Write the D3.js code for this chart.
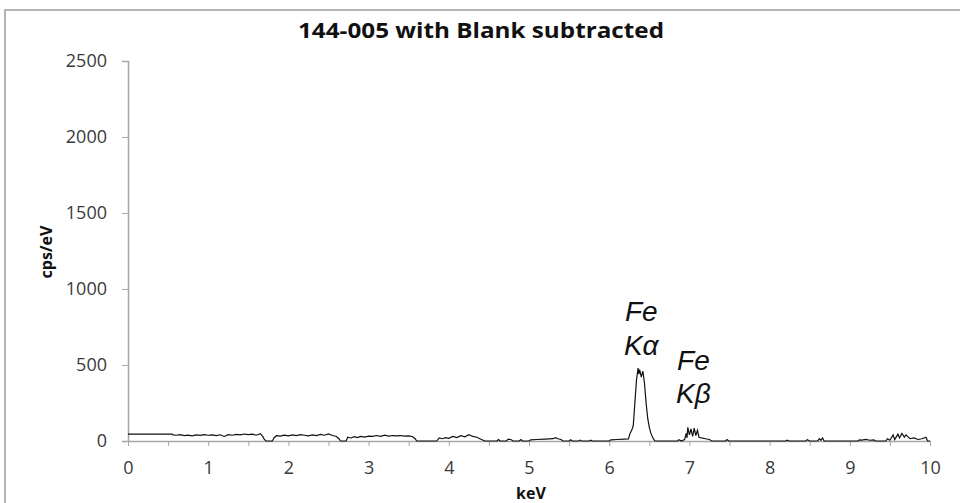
<!DOCTYPE html>
<html><head><meta charset="utf-8">
<script src="https://cdn.jsdelivr.net/npm/d3@7"></script>
<style>body{margin:0;background:#fff}svg{display:block}</style>
</head><body>
<script>
const title = "144-005 with Blank subtracted";
const xTicks = [0,1,2,3,4,5,6,7,8,9,10];
const yTicks = [0,500,1000,1500,2000,2500];
const keV = [0,0.55,0.56,0.6,0.65,0.7,0.75,0.8,0.85,0.9,0.95,1.0,1.05,1.1,1.15,1.2,1.25,1.3,1.35,1.4,1.45,1.5,1.55,1.6,1.65,1.68,1.7,1.72,
 1.8,1.82,1.85,1.9,1.95,2.0,2.05,2.1,2.15,2.2,2.25,2.3,2.35,2.4,2.45,2.5,2.55,2.6,2.63,2.65,
 2.72,2.74,2.78,2.82,2.86,2.9,2.95,3.0,3.05,3.1,3.15,3.2,3.25,3.3,3.35,3.4,3.45,3.5,3.55,3.58,3.6,
 3.85,3.88,3.92,3.96,4.0,4.05,4.1,4.15,4.2,4.25,4.3,4.35,4.4,4.45,
 4.6,4.62,4.64,4.72,4.74,4.78,4.8,4.88,4.9,4.92,5.0,5.02,5.1,5.2,5.3,5.33,5.36,5.4,5.42,5.5,5.52,5.54,5.62,5.64,5.66,5.75,5.77,5.79,
 6.0,6.02,6.1,6.18,6.24,6.26,6.28,6.3,6.32,6.34,6.36,6.37,6.38,6.4,6.42,6.44,6.46,6.48,6.5,6.52,6.55,6.57,
 6.85,6.87,6.9,6.94,6.96,6.97,6.98,7.0,7.02,7.04,7.06,7.08,7.1,7.12,7.15,7.2,7.25,7.28,
 7.45,7.47,7.49,8.2,8.22,8.24,8.45,8.47,8.5,8.6,8.62,8.64,8.66,8.68,
 9.1,9.12,9.15,9.2,9.25,9.3,9.32,9.45,9.47,9.5,9.54,9.56,9.6,9.62,9.65,9.68,9.7,9.75,9.8,9.85,9.9,9.95,9.97,10];
const cps = [45,45,40,38,42,36,38,34,40,37,42,38,40,35,41,30,42,38,44,40,46,42,45,38,48,30,10,0,
 0,20,35,32,38,34,40,36,42,38,34,40,36,44,38,46,36,30,15,0,
 0,25,20,28,22,30,26,32,30,36,30,38,32,36,34,36,32,34,28,15,0,
 0,20,15,22,18,30,22,35,28,42,30,25,12,0,
 0,10,0,0,12,8,0,0,10,0,0,8,10,12,15,22,15,10,0,0,8,0,0,6,0,0,5,0,
 0,8,10,12,14,50,70,100,250,400,480,440,470,420,460,380,250,150,90,50,15,0,
 0,8,0,10,50,20,90,40,80,30,85,35,70,25,20,15,10,0,
 0,10,0,0,5,0,0,8,0,0,15,5,20,0,
 0,8,6,10,5,8,0,0,15,5,40,10,45,20,50,25,40,15,20,10,15,25,0,0];
const data = keV.map((k,i)=>({k, v:cps[i]}));

const W=960,H=503;
const svg=d3.select("body").append("svg").attr("width",W).attr("height",H);
svg.append("path").attr("d","M5,503V10H960").attr("fill","none").attr("stroke","#b4b4b4").attr("stroke-width",2);

const x=d3.scaleLinear().domain([0,10]).range([128,930]);
const y=d3.scaleLinear().domain([0,2500]).range([441,61]);
const font="'Open Sans', sans-serif";

svg.append("text").attr("x",481).attr("y",38).attr("text-anchor","middle")
 .attr("font-family",font).attr("font-weight","bold").attr("font-size",21)
 .attr("textLength",366).attr("lengthAdjust","spacingAndGlyphs").attr("fill","#111").text(title);

const ya=svg.append("g").attr("transform","translate(128,0)")
 .call(d3.axisLeft(y).tickValues(yTicks).tickSize(6).tickPadding(15).tickFormat(d3.format("d")));
ya.select(".domain").attr("stroke","#a6a6a6").attr("stroke-width",1.5);
ya.selectAll(".tick line").attr("stroke","#a6a6a6");
ya.selectAll(".tick text").attr("font-family",font).attr("font-size",18).attr("fill","#3a3a3a");

const xa=svg.append("g").attr("transform","translate(0,441)")
 .call(d3.axisBottom(x).tickValues(d3.range(0,10.01,0.5)).tickSize(5).tickSizeOuter(0).tickPadding(15)
 .tickFormat(d=>Number.isInteger(d)?d:""));
xa.select(".domain").attr("stroke","#a6a6a6").attr("stroke-width",1.5);
xa.selectAll(".tick line").attr("stroke","#a6a6a6");
xa.selectAll(".tick text").attr("font-family",font).attr("font-size",18).attr("fill","#3a3a3a");

svg.append("path").datum(data).attr("fill","none").attr("stroke","#111").attr("stroke-width",1.2)
 .attr("d",d3.line().x(d=>x(d.k)).y(d=>y(d.v)));

svg.append("text").attr("x",531).attr("y",499).attr("text-anchor","middle")
 .attr("font-family",font).attr("font-weight","bold").attr("font-size",16).attr("fill","#111").text("keV");
const yl=svg.append("g").attr("transform","translate(52,252)");
yl.append("text").attr("transform","rotate(-90)").attr("text-anchor","middle")
 .attr("font-family",font).attr("font-weight","bold").attr("font-size",16).attr("fill","#111").text("cps/eV");

const ann=[{t:"Fe",k:6.4,yy:321},{t:"Kα",k:6.4,yy:355},{t:"Fe",k:7.05,yy:370},{t:"Kβ",k:7.05,yy:403}];
svg.selectAll("text.ann").data(ann).join("text").attr("class","ann")
 .attr("x",d=>x(d.k)).attr("y",d=>d.yy).attr("text-anchor","middle")
 .attr("font-family","'Liberation Sans', Arial, sans-serif").attr("font-style","italic").attr("font-size",28)
 .attr("fill","#111").text(d=>d.t);
</script>
</body></html>
